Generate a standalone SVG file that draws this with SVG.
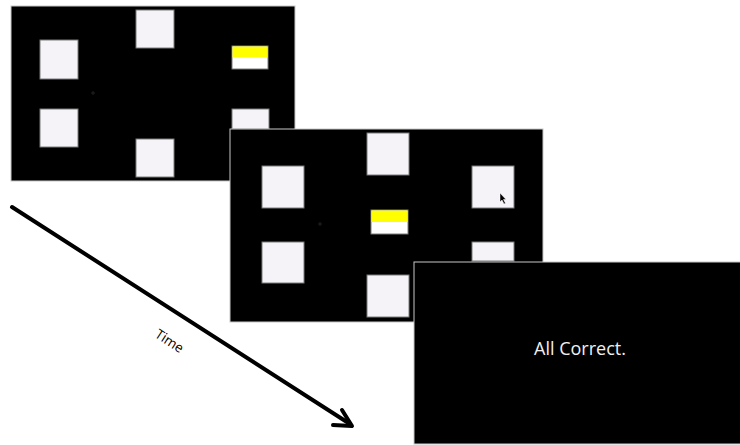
<svg xmlns="http://www.w3.org/2000/svg" width="740" height="445" viewBox="0 0 740 445">
<style>
.panel{fill:#000;stroke:#c8c8c8;stroke-width:1}
.sq{fill:#f5f3f7;stroke:#7a7a7a;stroke-width:1}
.yel{fill:#ffff00}
.wht{fill:#ffffff}
.cross{stroke:#2a2a2a;stroke-width:0.8}
.lbl{font-family:"Open Sans","Liberation Sans",sans-serif}
</style>
<rect width="740" height="445" fill="#fff"/>
<g id="screen1">
<rect class="panel" x="11" y="6" width="284" height="175"/>
<rect class="sq" x="40" y="40" width="38" height="39"/>
<rect class="sq" x="40" y="109" width="38" height="38"/>
<rect class="sq" x="136" y="10" width="38" height="38"/>
<rect class="sq" x="136" y="139" width="38" height="38"/>
<rect class="wht" x="232" y="46" width="36" height="23" stroke="#7a7a7a" stroke-width="1"/>
<rect class="yel" x="232.5" y="46.5" width="35" height="11"/>
<rect class="sq" x="232" y="109" width="37" height="20"/>
<path class="cross" d="M91 93h4M93 91v4"/>
</g>
<g id="screen2">
<rect class="panel" x="230" y="129" width="313" height="193"/>
<rect class="sq" x="262" y="166" width="42" height="42"/>
<rect class="sq" x="262" y="242" width="42" height="41"/>
<rect class="sq" x="367" y="133" width="42" height="42"/>
<rect class="sq" x="367" y="275" width="42" height="42"/>
<rect class="sq" x="472" y="166" width="42" height="42"/>
<rect class="sq" x="472" y="242" width="42" height="19"/>
<rect class="wht" x="371" y="210" width="37" height="24" stroke="#7a7a7a" stroke-width="1"/>
<rect class="yel" x="371.5" y="210.5" width="36" height="11.5"/>
<path class="cross" d="M318 224h4M320 222v4"/>
<path d="M500 193 L500 202 L502 200 L504 204 L505.5 203.3 L503.5 199.5 L506 199.5 Z" fill="#000" stroke="#fff" stroke-width="0.5"/>
</g>
<g id="screen3">
<rect class="panel" x="414" y="262" width="327" height="182"/>
<text class="lbl" x="580" y="355" font-size="18" fill="#f0f0f0" text-anchor="middle">All Correct.</text>
</g>
<g id="connectors">
<path d="M12 207 L350 424" stroke="#000" stroke-width="4" fill="none" stroke-linecap="round"/>
<path d="M342 410 L352 426 L333 425" stroke="#000" stroke-width="4" fill="none" stroke-linecap="round" stroke-linejoin="round"/>
<text class="lbl" x="167" y="345" font-size="13.5" fill="#000" text-anchor="middle" transform="rotate(33 167 345)">Time</text>
</g>
</svg>
